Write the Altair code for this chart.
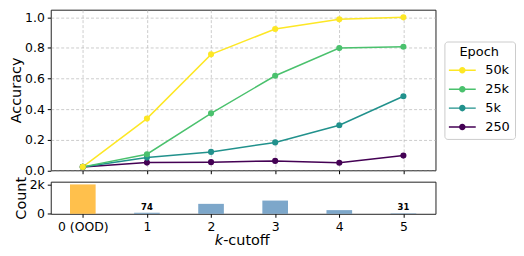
import altair as alt
import pandas as pd

# ---------------- data ----------------
k_values = [0, 1, 2, 3, 4, 5]
tick_labels = ["0 (OOD)", "1", "2", "3", "4", "5"]
draw_order = ["250", "5k", "25k", "50k"]
acc_250 = [0.022, 0.050, 0.053, 0.061, 0.049, 0.096]
acc_5k = [0.022, 0.083, 0.120, 0.182, 0.294, 0.484]
acc_25k = [0.022, 0.105, 0.372, 0.618, 0.799, 0.808]
acc_50k = [0.022, 0.338, 0.758, 0.924, 0.987, 1.000]
counts = [1990, 74, 673, 896, 249, 31]
legend_order = ["50k", "25k", "5k", "250"]
line_colors = ["#fde725", "#4ac16d", "#21918c", "#440154"]

series = {"250": acc_250, "5k": acc_5k, "25k": acc_25k, "50k": acc_50k}
rows = []
for ep in draw_order:
    for k, a in zip(k_values, series[ep]):
        rows.append({"k": k, "acc": a, "epoch": ep})
acc_df = pd.DataFrame(rows)
cnt_df = pd.DataFrame({"k": k_values, "count": counts})

FONT = "DejaVu Sans"
xscale = alt.Scale(domain=[-0.5, 5.5], nice=False, zero=False)
label_expr = "[" + ",".join("'%s'" % t for t in tick_labels) + "][datum.value]"

# ---------------- top panel ----------------
x_top = alt.X("k:Q", scale=xscale,
              axis=alt.Axis(values=k_values, labels=False, title=None, grid=True))
y_top = alt.Y("acc:Q", scale=alt.Scale(domain=[0, 1.05], nice=False),
              axis=alt.Axis(values=[0, 0.2, 0.4, 0.6, 0.8, 1.0], format=".1f",
                            title="Accuracy", grid=True, titlePadding=1))

sym = ("M-1.93,-0.107L1.93,-0.107L1.93,0.107L-1.93,0.107Z"
       "M-0.47,0A0.47,0.47 0 1,1 0.47,0A0.47,0.47 0 1,1 -0.47,0Z")

legend = alt.Legend(title="Epoch", orient="none", legendX=396, legendY=32,
                    symbolType=sym, symbolSize=196, symbolOffset=6,
                    symbolStrokeWidth=0, labelOffset=16, padding=5,
                    rowPadding=5, titlePadding=4, strokeColor="#cccccc",
                    cornerRadius=3, fillColor="white", titleFontSize=13,
                    labelFontSize=13, titleFontWeight="normal",
                    titleAnchor="middle", titleAlign="center",
                    labelFont=FONT, titleFont=FONT,
                    labelColor="black", titleColor="black")

cscale = alt.Scale(domain=legend_order, range=line_colors)
# same colours, listed in drawing order for the (legend-less) line stroke scale
sscale = alt.Scale(domain=draw_order, range=line_colors[::-1])
base = alt.Chart(acc_df)
lines = base.mark_line(strokeWidth=1.5).encode(
    x=x_top, y=y_top,
    stroke=alt.Stroke("epoch:N", scale=sscale, legend=None),
    detail="epoch:N")
points = base.mark_point(filled=True, size=38, opacity=1).encode(
    x=x_top, y=y_top,
    color=alt.Color("epoch:N", scale=cscale, legend=legend))
top = alt.layer(lines, points).properties(width=387, height=161.5)

# ---------------- bottom panel ----------------
x_bot = alt.X("x1:Q", scale=xscale,
              axis=alt.Axis(values=k_values, labelExpr=label_expr, title=None,
                            grid=False))
y_bot = alt.Y("count:Q", scale=alt.Scale(domain=[0, 2175], nice=False),
              axis=alt.Axis(values=[0, 2000],
                            labelExpr="datum.value == 0 ? '0' : '2k'",
                            title="Count", grid=False, titlePadding=1))
bars = alt.Chart(cnt_df).transform_calculate(
    x1="datum.k - 0.2", x2="datum.k + 0.2"
).mark_bar(opacity=0.7).encode(
    x=x_bot, x2="x2:Q", y=y_bot, y2=alt.datum(0),
    color=alt.condition(alt.datum.k == 0, alt.value("orange"),
                        alt.value("steelblue")))
bar_text = alt.Chart(cnt_df).transform_filter(alt.datum.count < 100).mark_text(
    fontSize=8.5, fontWeight="bold", baseline="bottom", dy=-1, font=FONT,
    color="black"
).encode(x="k:Q", y="count:Q", text="count:Q")

k_txt = alt.Chart(pd.DataFrame({"t": ["k"]})).mark_text(
    fontSize=14.5, fontStyle="italic", align="right", baseline="alphabetic",
    font=FONT, color="black"
).encode(x=alt.value(173.4), y=alt.value(64), text="t:N")
cut_txt = alt.Chart(pd.DataFrame({"t": ["-cutoff"]})).mark_text(
    fontSize=14.5, align="left", baseline="alphabetic", font=FONT,
    color="black"
).encode(x=alt.value(173.4), y=alt.value(64), text="t:N")

bottom = alt.layer(bars, bar_text, k_txt, cut_txt).properties(width=387, height=32.3)

chart = alt.vconcat(top, bottom, spacing=-2).properties(
    padding={"left": 0, "top": 0, "right": 0, "bottom": 0}
).configure_view(
    stroke="#222222", strokeWidth=1
).configure_axis(
    labelFont=FONT, titleFont=FONT, labelFontSize=12.5, titleFontSize=14.5,
    titleFontWeight="normal", labelColor="black", titleColor="black",
    tickColor="black", tickSize=3.5, domain=False, labelPadding=3,
    gridColor="#b0b0b0", gridDash=[3, 2], gridWidth=0.8, gridOpacity=0.8
)

chart.save("out.html", embed_options={"renderer": "svg", "actions": False})
